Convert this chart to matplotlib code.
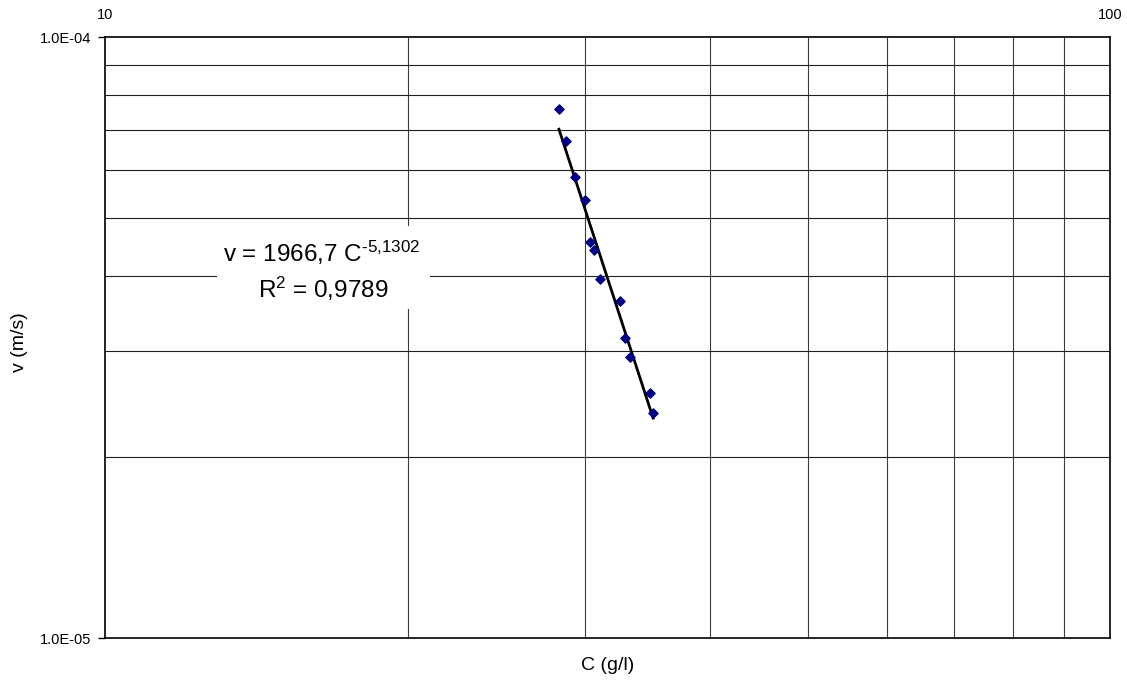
import numpy as np
import matplotlib
matplotlib.use('Agg')
import matplotlib.pyplot as plt
from matplotlib.patches import Rectangle
from matplotlib.ticker import FixedLocator, NullLocator, NullFormatter

plt.rcParams['font.family'] = ['Liberation Sans', 'DejaVu Sans']
plt.rcParams['mathtext.fontset'] = 'custom'
plt.rcParams['mathtext.rm'] = 'Liberation Sans'
plt.rcParams['mathtext.it'] = 'Liberation Sans'

# measured concentration (g/l) and velocity (m/s)
conc = [28.29, 28.73, 29.35, 30.03, 30.38, 30.66, 31.06, 32.54, 32.94, 33.30, 34.88, 35.10]
vel = [7.58e-5, 6.71e-5, 5.86e-5, 5.35e-5, 4.56e-5, 4.42e-5, 3.96e-5, 3.64e-5,
       3.16e-5, 2.93e-5, 2.56e-5, 2.37e-5]

# power trendline v = a * C^b
coef_a = 1966.7
coef_b = -5.1302
r2 = 0.9789

W, H = 1127, 682
fig = plt.figure(figsize=(W / 100, H / 100), dpi=100)
ax = fig.add_axes([0.0932, 0.0645, 0.8918, 0.8812])
ax.set_xscale('log')
ax.set_yscale('log')
ax.set_xlim(10, 100)
ax.set_ylim(1e-5, 1e-4)

# grid
for xv in range(20, 100, 10):
    ax.axvline(xv, color='#3c3c3c', lw=0.8, zorder=1)
for yv in range(2, 10):
    ax.axhline(yv * 1e-5, color='#202020', lw=0.8, zorder=1)

cx = np.array([min(conc), max(conc)])
ax.plot(cx, coef_a * cx ** coef_b, color='black', lw=2, zorder=3)
ax.scatter(conc, vel, marker='D', s=22, color='#000080', zorder=4)

# trendline label with white background
fig.patches.append(Rectangle((217 / W, 1 - 309 / H), 213 / W, 83 / H,
                             transform=fig.transFigure, facecolor='white',
                             edgecolor='none', zorder=5))
fig.text(322 / W, 1 - 253 / H, 'v = 1966,7 C$^{\\text{-5,1302}}$',
         ha='center', va='center', fontsize=17.5, zorder=6)
fig.text(323 / W, 1 - 289 / H, 'R$^{\\text{2}}$ = 0,9789',
         ha='center', va='center', fontsize=17.5, zorder=6)

ax.xaxis.set_ticks_position('top')
ax.xaxis.set_major_locator(FixedLocator([10, 100]))
ax.xaxis.set_minor_locator(NullLocator())
ax.xaxis.set_minor_formatter(NullFormatter())
ax.set_xticklabels(['10', '100'])
ax.tick_params(axis='x', length=0, pad=11, labelsize=10.5)

ax.yaxis.set_major_locator(FixedLocator([1e-5, 1e-4]))
ax.yaxis.set_minor_locator(NullLocator())
ax.yaxis.set_minor_formatter(NullFormatter())
ax.set_yticklabels(['1.0E-05', '1.0E-04'])
ax.tick_params(axis='y', length=5, width=1, pad=5, labelsize=10.5)

for s in ax.spines.values():
    s.set_linewidth(1.2)

fig.text(608 / W, 1 - 666 / H, 'C (g/l)', ha='center', va='center', fontsize=14)
fig.text(20 / W, 1 - 342 / H, 'v (m/s)', ha='center', va='center', fontsize=14, rotation=90)

fig.savefig('out.png', dpi=100)
